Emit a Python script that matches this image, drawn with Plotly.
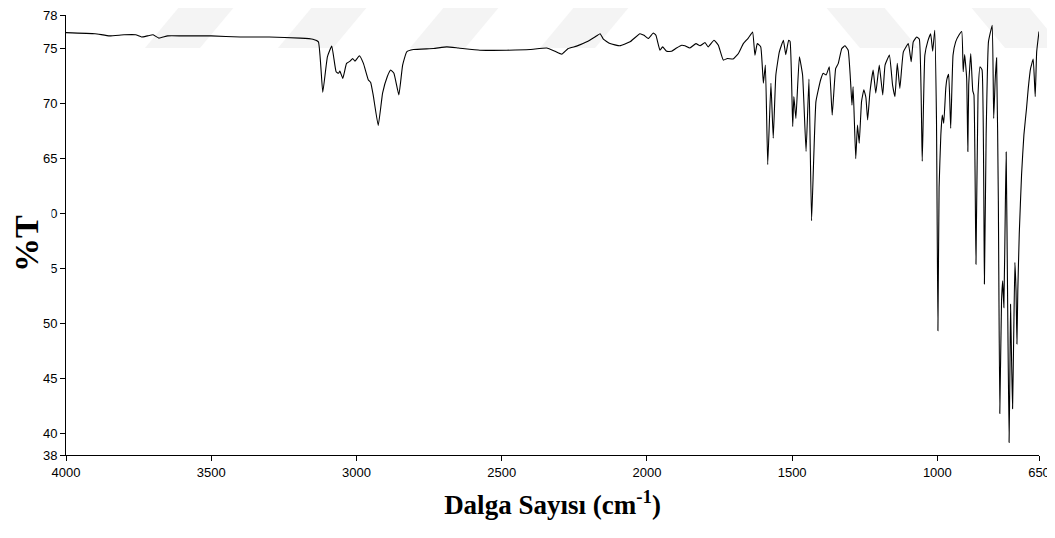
import plotly.graph_objects as go

# Wavenumber (cm^-1) and %T
wavenumber = [
    4000, 3900, 3850, 3800, 3760, 3740, 3720, 3700, 3680, 3650, 3600, 3500, 3400, 3300, 3194, 3150, 3131,
    3116, 3100, 3085, 3070, 3062, 3057, 3047, 3034, 3022, 3013, 3005, 2990, 2976, 2959, 2951, 2942,
    2925, 2910, 2894, 2882, 2871, 2854, 2841, 2827, 2804, 2735, 2689, 2649, 2575, 2483, 2402,
    2345, 2316, 2293, 2271, 2242, 2207, 2179, 2161, 2150, 2127, 2093, 2058, 2024, 2010, 1995,
    1978, 1969, 1955, 1946, 1932, 1915, 1898, 1880, 1869, 1852, 1831, 1817, 1800, 1789, 1769,
    1754, 1737, 1723, 1703, 1685, 1668, 1651, 1636, 1628, 1620, 1608, 1599, 1592, 1584, 1573,
    1565, 1556, 1544, 1530, 1522, 1512, 1507, 1498, 1494, 1487, 1475, 1464, 1452, 1442, 1433,
    1418, 1402, 1393, 1383, 1372, 1362, 1350, 1341, 1329, 1318, 1307, 1298, 1294, 1290, 1281,
    1275, 1269, 1261, 1253, 1246, 1240, 1232, 1221, 1212, 1200, 1188, 1180, 1165, 1154, 1146,
    1138, 1129, 1117, 1100, 1090, 1083, 1071, 1062, 1052, 1043, 1033, 1023, 1016, 1009, 1003,
    998, 994, 988, 983, 978, 971, 967, 961, 954, 946, 937, 926, 916, 911, 906, 899, 895, 892,
    885, 878, 874, 867, 860, 853, 846, 838, 832, 824, 817, 811, 806, 801, 796, 790, 785, 779,
    775, 771, 766, 763, 758, 753, 750, 748, 744, 741, 737, 733, 729, 726, 723, 718, 710, 702,
    693, 687, 679, 670, 663, 658, 650,
]
transmittance = [
    76.4, 76.3, 76.1, 76.2, 76.2, 76.0, 76.1, 76.2, 75.9, 76.1, 76.1, 76.1, 76.0, 76.0, 75.9, 75.8, 75.56,
    70.97, 74.2, 75.17, 72.84, 72.7, 72.9, 72.24, 73.6, 73.8, 74.05, 73.8, 74.29, 73.6, 72.09, 71.87, 70.67,
    67.95, 70.9, 72.39, 73.0, 72.7, 70.73, 73.45, 74.65, 74.86, 74.95, 75.1, 75.0, 74.8, 74.8, 74.86,
    75.0, 74.7, 74.44, 74.95, 75.17, 75.56, 76.0, 76.3, 75.8, 75.4, 75.2, 75.56, 76.3, 76.15, 75.86,
    76.37, 76.16, 74.8, 75.1, 74.7, 74.7, 75.0, 75.25, 75.2, 75.0, 75.4, 75.2, 75.5, 75.1, 75.7,
    75.25, 73.9, 74.05, 74.0, 74.5, 75.4, 75.9, 76.46, 74.35, 75.4, 75.1, 71.8, 73.45, 64.4, 71.8,
    66.8, 72.55, 74.65, 75.7, 74.4, 75.7, 75.6, 67.86, 70.58, 68.6, 74.2, 72.55, 65.6, 72.18, 59.3,
    70.13, 72.09, 72.7, 72.55, 73.3, 68.9, 73.14, 73.6, 74.95, 75.2, 74.8, 71.6, 69.8, 71.5, 64.94,
    68.0, 66.35, 70.13, 71.2, 70.5, 68.47, 71.0, 73.0, 70.9, 73.45, 70.73, 73.45, 74.35, 71.6, 70.58,
    73.6, 71.33, 74.65, 75.4, 73.75, 75.56, 76.0, 75.8, 64.7, 74.35, 75.6, 76.3, 74.7, 76.6, 68.6,
    49.3, 62.3, 67.1, 68.9, 68.16, 71.33, 72.18, 72.6, 67.7, 74.35, 75.56, 76.16, 76.5, 72.84, 74.4, 72.24, 65.6, 71.6,
    74.5, 71.1, 70.73, 55.35, 70.73, 73.3, 73.0, 53.54, 67.1, 75.56, 76.46, 77.07, 68.6, 72.0, 74.1, 61.1, 41.77, 52.0,
    53.84, 51.4, 60.5, 65.54, 52.0, 39.14, 46.0, 51.7, 46.0, 42.2, 49.0, 55.5, 52.9, 48.1, 52.9, 58.06, 63.5, 67.1,
    69.5, 71.33, 73.14, 73.99, 70.58, 74.65, 76.5,
]

x_ticks = [4000, 3500, 3000, 2500, 2000, 1500, 1000, 650]
y_ticks = [38, 40, 45, 50, 55, 60, 65, 70, 75, 78]

W, H = 1055, 538
OFF = 8  # page body margin in the browser
# desired plot-area edges on screen (pixels)
L, R, B, T = 66, 1039, 455, 15

def px(x):
    return (x - L) / (R - L)
def py(y):
    return (B - y) / (B - T)

fig = go.Figure()
fig.add_trace(go.Scatter(
    x=wavenumber, y=transmittance, mode="lines",
    line=dict(color="black", width=1.1, shape="spline", smoothing=0.35),
    showlegend=False,
))

# faint watermark stripes at the top (screen pixels -> paper)
stripes = [
    [(145, 48), (200, 48), (240, 0), (185, 0)],
    [(278, 48), (333, 48), (373, 0), (318, 0)],
    [(410, 48), (465, 48), (505, 0), (450, 0)],
    [(540, 48), (595, 48), (635, 0), (580, 0)],
    [(820, 0), (878, 0), (918, 48), (860, 48)],
    [(965, 0), (1023, 0), (1063, 48), (1005, 48)],
]
for s in stripes:
    path = "M " + " L ".join(f"{px(a):.4f},{py(b):.4f}" for a, b in s) + " Z"
    fig.add_shape(type="path", path=path, xref="paper", yref="paper",
                  fillcolor="#f4f4f4", line=dict(width=0), layer="below")

fig.update_layout(
    width=W, height=H,
    margin=dict(l=L - OFF, r=W - (R - OFF), t=T - OFF, b=H - (B - OFF), autoexpand=False),
    paper_bgcolor="white", plot_bgcolor="rgba(0,0,0,0)",
    font=dict(family="Liberation Sans, Arial, sans-serif", size=13, color="black"),
    xaxis=dict(
        range=[4000, 650], tickvals=x_ticks, ticktext=[str(v) for v in x_ticks],
        showgrid=False, zeroline=False, showline=True, linecolor="black", linewidth=1,
        ticks="outside", ticklen=5, tickcolor="black", tickwidth=1,
        ticklabeloverflow="allow", automargin=False,
        title=dict(text="<b>Dalga Sayısı (cm<sup>-1</sup>)</b>",
                   font=dict(family="Liberation Serif, Times New Roman, serif", size=27),
                   standoff=16),
    ),
    yaxis=dict(
        range=[38, 78], tickvals=y_ticks, ticktext=[str(v) for v in y_ticks],
        showgrid=False, zeroline=False, showline=True, linecolor="black", linewidth=1,
        ticks="outside", ticklen=5, tickcolor="black", tickwidth=1,
        ticklabeloverflow="allow", automargin=False,
    ),
)

# y-axis title drawn over the tick labels (as in the reference, where it hides 60 and 55)
fig.add_annotation(
    text="<b>%T</b>", textangle=-90, xref="paper", yref="paper",
    x=px(26), y=py(244), xanchor="center", yanchor="middle", showarrow=False,
    font=dict(family="Liberation Serif, Times New Roman, serif", size=34, color="black"),
    bgcolor="white", borderpad=6,
)

fig.write_html("out.html")
